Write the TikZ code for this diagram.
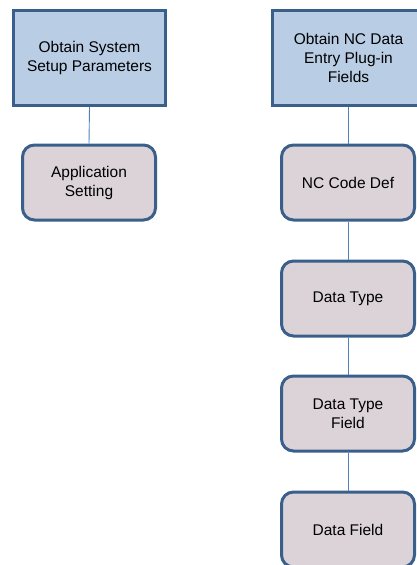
\documentclass[tikz,border=0pt]{standalone}
\usepackage{fontspec}
\setmainfont{Liberation Sans}
\definecolor{topfill}{HTML}{B9CDE5}
\definecolor{subfill}{HTML}{DBD3D8}
\definecolor{edge}{HTML}{3A5F8B}
\definecolor{link}{HTML}{4F81BD}
\begin{document}
\begin{tikzpicture}[x=1pt,y=-1pt,
  topbox/.style={draw=edge, line width=3pt, fill=topfill, minimum width=152pt, minimum height=95pt, inner sep=0pt, align=center, font=\fontsize{15.5}{19}\selectfont},
  subbox/.style={draw=edge, line width=3pt, fill=subfill, rounded corners=12pt, minimum width=133pt, minimum height=75pt, inner sep=0pt, align=center, font=\fontsize{15.5}{19}\selectfont},
  conn/.style={draw=link, line width=0.9pt}]
\clip (0,0) rectangle (417,565);
\node[topbox] (sys) at (89.5,58) {Obtain System\\Setup Parameters};
\node[subbox] (app) at (89,182.5) {Application\\Setting};
\node[topbox] (nc) at (348.5,58) {Obtain NC Data\\Entry Plug-in\\Fields};
\node[subbox] (code) at (348,182.5) {NC Code Def};
\node[subbox] (dt) at (348,298.5) {Data Type};
\node[subbox] (dtf) at (348,413.5) {Data Type\\Field};
\node[subbox] (df) at (348,529.5) {Data Field};
\draw[conn] (sys.south) -- (app.north);
\draw[conn] (nc.south -| code.north) -- (code.north);
\draw[conn] (code.south) -- (dt.north);
\draw[conn] (dt.south) -- (dtf.north);
\draw[conn] (dtf.south) -- (df.north);
\end{tikzpicture}
\end{document}
